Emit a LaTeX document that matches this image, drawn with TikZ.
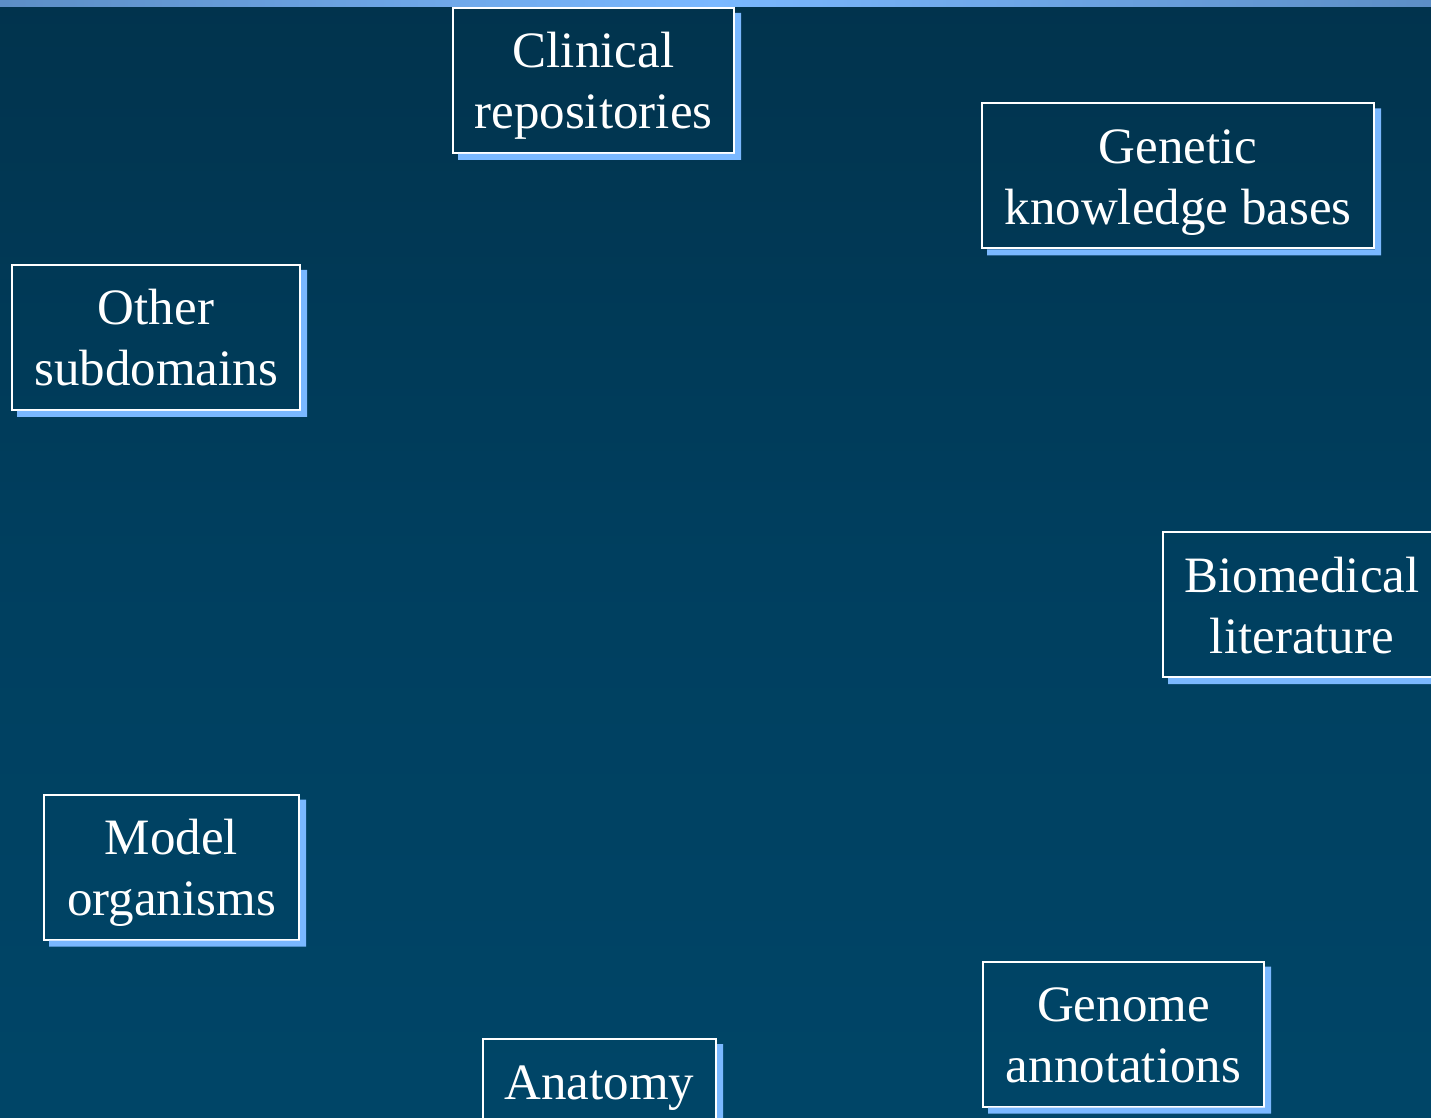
\documentclass[tikz,border=0pt]{standalone}
\usepackage{fontspec}
\setmainfont{Liberation Serif}
\definecolor{bgtop}{RGB}{2,39,59}
\definecolor{bgmid}{RGB}{0,63,95}
\definecolor{bgbot}{RGB}{0,76,112}
\definecolor{baredge}{RGB}{62,100,140}
\definecolor{barmid}{RGB}{122,184,255}
\definecolor{shadowc}{RGB}{122,184,255}
\pgfdeclareverticalshading{bgshade}{100bp}{color(0bp)=(bgbot); color(50bp)=(bgmid); color(100bp)=(bgtop)}
\pgfdeclarehorizontalshading{barshade}{100bp}{color(0bp)=(baredge); color(50bp)=(barmid); color(100bp)=(baredge)}
\newcommand{\mystrut}{\rule[-6.25pt]{0pt}{30.5pt}}
\tikzset{
  topicbox/.style={draw=white, line width=1pt, inner sep=0pt, minimum height=72.5pt,
    align=center, text=white, font=\fontsize{25.5pt}{30.5pt}\selectfont}
}
\begin{document}
\begin{tikzpicture}[x=0.5pt,y=-0.5pt]
\useasboundingbox (0,0) rectangle (1431,1118);
\clip (0,0) rectangle (1431,1118);
\fill[shading=bgshade] (0,0) rectangle (1431,1118);
\fill[shading=barshade] (0,0) rectangle (1431,7);

\node[topicbox, minimum width=140.5pt] (clin) at (593.5,80.5) {\mystrut Clinical\\\mystrut repositories};
\node[topicbox, minimum width=196pt] (gen) at (1178,176) {\mystrut Genetic\\\mystrut knowledge bases};
\node[topicbox, minimum width=144pt] (oth) at (156,337.5) {\mystrut Other\\\mystrut subdomains};
\node[topicbox, minimum width=139pt] (bio) at (1302,604.5) {\mystrut Biomedical\\\mystrut literature};
\node[topicbox, minimum width=127.5pt] (mod) at (171.5,867) {\mystrut Model\\\mystrut organisms};
\node[topicbox, minimum width=140.5pt] (gnm) at (1123.5,1034) {\mystrut Genome\\\mystrut annotations};
\node[topicbox, minimum width=116.5pt] (anat) at (599.5,1111.5) {\mystrut Anatomy\\\mystrut};

\foreach \n in {clin,gen,oth,bio,mod,gnm,anat}{
  \fill[shadowc] ([yshift=-3pt]\n.north east) -- ([xshift=3pt,yshift=-3pt]\n.north east)
    -- ([xshift=3pt,yshift=-3pt]\n.south east) -- ([xshift=3pt,yshift=-3pt]\n.south west)
    -- ([xshift=3pt]\n.south west) -- (\n.south east) -- cycle;
}
\end{tikzpicture}
\end{document}
